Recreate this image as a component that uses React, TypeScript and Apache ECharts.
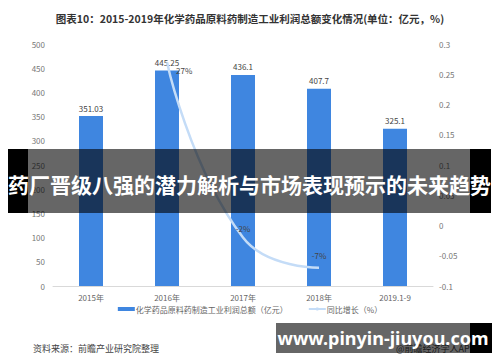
import React, { useEffect, useRef } from "react";
import * as echarts from "echarts";

const categories = ["2015年", "2016年", "2017年", "2018年", "2019.1-9"];
const profitValues = [351.03, 445.25, 436.1, 407.7, 325.1];
const growthValues: (number | string)[] = ["-", 0.27, -0.02, -0.07, "-"];
const leftTicks = { min: 0, max: 500, interval: 50 };
const rightTicks = { min: -0.1, max: 0.3, interval: 0.05 };
const barName = "化学药品原料药制造工业利润总额（亿元）";
const lineName = "同比增长（%）";
const titleText = "图表10：2015-2019年化学药品原料药制造工业利润总额变化情况(单位：亿元，%)";
const bannerText = "药厂晋级八强的潜力解析与市场表现预示的未来趋势";
const siteText = "www.pinyin-jiuyou.com";
const sourceText = "资料来源：前瞻产业研究院整理";
const creditText = "@前瞻经济学人APP";

const FONT = '"Noto Sans CJK SC", "Noto Sans", sans-serif';

export default function App() {
  const ref = useRef<HTMLDivElement>(null);
  useEffect(() => {
    if (!ref.current) return;
    const chart = echarts.init(ref.current, null, { renderer: "svg" });
    const lineLabelPos: any[] = [
      null,
      { position: "right", offset: [4, 8] },
      { position: "top", offset: [0, 0] },
      { position: "top", offset: [0, -3] },
      null,
    ];
    chart.setOption({
      animation: false,
      textStyle: { fontFamily: FONT },
      title: {
        text: titleText,
        left: "center",
        top: 8,
        textStyle: { fontSize: 10.5, fontWeight: "bold", color: "#333", fontFamily: FONT },
      },
      grid: { left: 53, right: 67, top: 44, bottom: 76 },
      legend: {
        bottom: 44,
        left: "center",
        itemWidth: 17,
        itemHeight: 4,
        itemGap: 20,
        textStyle: { fontSize: 8, color: "#666", padding: [0, 0, 0, -4] },
        data: [{ name: barName, icon: "rect" }, { name: lineName }],
      },
      xAxis: {
        type: "category",
        data: categories,
        axisLine: { lineStyle: { color: "#d9d9d9" } },
        axisTick: { show: false },
        axisLabel: { fontSize: 8, color: "#666", margin: 7 },
      },
      yAxis: [
        {
          type: "value",
          ...leftTicks,
          splitLine: { show: false },
          axisLine: { show: false },
          axisTick: { show: false },
          axisLabel: { fontSize: 8, color: "#777", margin: 8 },
        },
        {
          type: "value",
          ...rightTicks,
          splitLine: { show: false },
          axisLine: { show: false },
          axisTick: { show: false },
          axisLabel: {
            fontSize: 8,
            color: "#777",
            margin: 6,
            formatter: (v: number) => String(Math.round(v * 100) / 100),
          },
        },
      ],
      series: [
        {
          name: barName,
          type: "bar",
          data: profitValues,
          barWidth: 24,
          itemStyle: { color: "#3f86e0" },
          label: { show: true, position: "top", fontSize: 8, color: "#444", distance: 4 },
        },
        {
          name: lineName,
          type: "line",
          yAxisIndex: 1,
          smooth: true,
          showSymbol: true,
          symbol: "circle",
          symbolSize: 0.1,
          connectNulls: false,
          data: growthValues.map((v, i) =>
            v === "-" ? "-" : { value: v, label: lineLabelPos[i] }
          ),
          lineStyle: { color: "#c4dcf7", width: 2.5 },
          itemStyle: { color: "#c4dcf7" },
          label: {
            show: true,
            fontSize: 8,
            color: "#444",
            formatter: (p: any) => Math.round(p.value * 100) + "%",
          },
        },
      ],
      graphic: [
        { type: "text", left: 33, top: 344, z: 50, style: { text: sourceText, fill: "#444", font: `9px ${FONT}` } },
        { type: "text", left: 396, top: 344, z: 50, style: { text: creditText, fill: "#444", font: `9px ${FONT}` } },
        { type: "rect", z: 100, shape: { x: 8, y: 149, width: 20, height: 64 }, style: { fill: "#000" } },
        { type: "rect", z: 100, shape: { x: 28, y: 149, width: 442, height: 64 }, style: { fill: "rgba(0,0,0,0.6)" } },
        { type: "rect", z: 100, shape: { x: 470, y: 149, width: 21, height: 64 }, style: { fill: "#000" } },
        {
          type: "text",
          z: 101,
          x: 249.5,
          y: 184,
          style: {
            text: bannerText,
            fill: "#fff",
            font: `bold 21px ${FONT}`,
            align: "center",
            verticalAlign: "middle",
          },
        },
        { type: "rect", z: 100, shape: { x: 276, y: 323, width: 194, height: 30 }, style: { fill: "rgba(0,0,0,0.6)" } },
        { type: "rect", z: 100, shape: { x: 470, y: 323, width: 22, height: 30 }, style: { fill: "#000" } },
        {
          type: "text",
          z: 101,
          x: 383,
          y: 338,
          style: {
            text: siteText,
            fill: "#fff",
            font: `bold 18px "Noto Sans", sans-serif`,
            align: "center",
            verticalAlign: "middle",
          },
        },
      ],
    });
    return () => chart.dispose();
  }, []);
  return (
    <div
      ref={ref}
      style={{ position: "fixed", left: 0, top: 0, width: 500, height: 362, background: "#fff" }}
    />
  );
}
